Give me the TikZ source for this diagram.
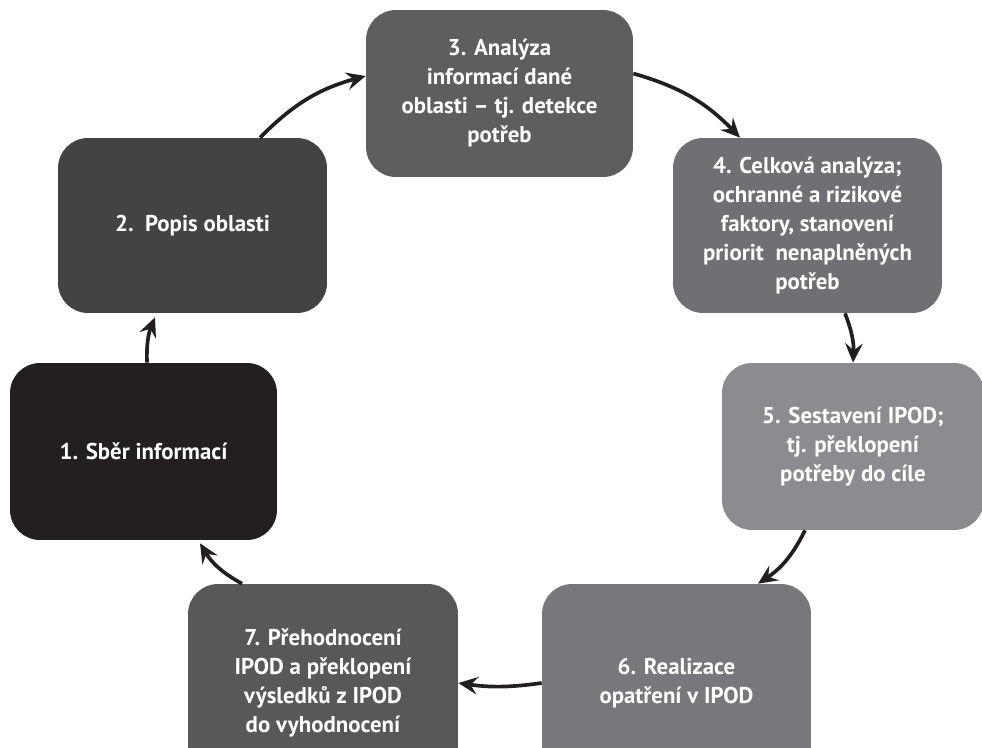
\documentclass[tikz,border=0pt]{standalone}
\usepackage{fontspec}
\setmainfont{PT Sans}
\usetikzlibrary{arrows.meta}

\definecolor{krokA}{HTML}{231F20}
\definecolor{krokB}{HTML}{434345}
\definecolor{krokC}{HTML}{5E5E61}
\definecolor{krokD}{HTML}{6F7073}
\definecolor{krokE}{HTML}{8B8C8F}
\definecolor{krokF}{HTML}{77787B}
\definecolor{krokG}{HTML}{58585B}

\begin{document}
\begin{tikzpicture}[x=0.02cm,y=-0.02cm,
    krok/.style={rounded corners=0.6cm, inner sep=0pt, text=white, align=center,
      font=\bfseries\fontsize{13}{16.5}\selectfont},
    sipka/.style={draw=krokA, line width=2.1pt,
      -{Stealth[length=11pt,width=10pt,inset=4pt]}}]
      \clip (0,0) rectangle (982,747);

      %% kroky cyklu
      \node[krok, fill=krokA, minimum width=5.34cm, minimum height=3.54cm] (k1) at (143.5,451.5)
        {1. Sběr informací};
      \node[krok, fill=krokB, minimum width=5.38cm, minimum height=3.5cm] (k2) at (192.5,225.5)
        {2.\ \ Popis oblasti};
      \node[krok, fill=krokC, minimum width=5.34cm, minimum height=3.34cm] (k3) at (499.5,93.5)
        {3. Analýza\\informací dané\\oblasti – tj. detekce\\potřeb};
      \node[krok, fill=krokD, minimum width=5.38cm, minimum height=3.5cm] (k4) at (807.5,225.5)
        {4. Celková analýza;\\ochranné a rizikové\\faktory, stanovení\\priorit\ \ nenaplněných\\potřeb};
      \node[krok, fill=krokE, minimum width=5.24cm, minimum height=3.34cm] (k5) at (853,446.5)
        {5. Sestavení IPOD;\\tj. překlopení\\potřeby do cíle};
      \node[krok, fill=krokF, minimum width=5.38cm, minimum height=3.96cm] (k6) at (676.5,683)
        {6. Realizace\\opatření v IPOD};
      \node[krok, fill=krokG, minimum width=5.4cm, minimum height=3.96cm] (k7) at (323,683)
        {7. Přehodnocení\\IPOD a překlopení\\výsledků z IPOD\\do vyhodnocení};

      %% sipky
      \draw[sipka] ([xshift=0.07cm]k1.north) to[bend left=12] ([xshift=-0.75cm,yshift=-0.08cm]k2.south);
      \draw[sipka] ([xshift=1.35cm]k2.north) to[bend left=15] ([yshift=0.35cm]k3.west);
      \draw[sipka] ([yshift=0.4cm]k3.east) to[bend left=15] ([xshift=-1.35cm]k4.north);
      \draw[sipka] ([xshift=0.75cm]k4.south) to[bend left=12] (k5.north);
      \draw[sipka] ([xshift=-0.96cm]k5.south) to[bend left=15] ([xshift=1.63cm]k6.north);
      \draw[sipka] (k6.west) to[bend left=8] (k7.east);
      \draw[sipka] ([xshift=-1.62cm]k7.north) to[bend left=15] ([xshift=1.13cm,yshift=-0.06cm]k1.south);
\end{tikzpicture}
\end{document}
